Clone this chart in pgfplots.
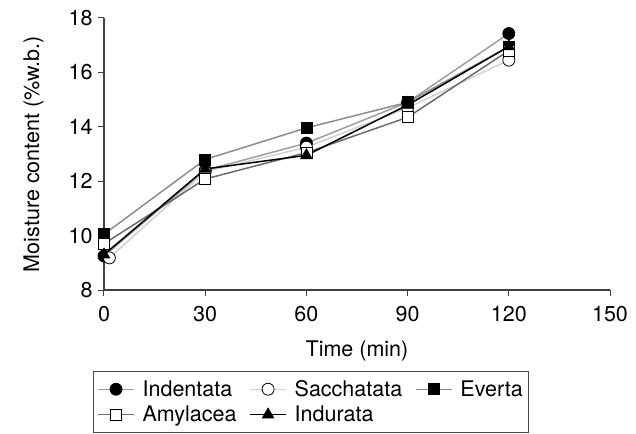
\documentclass[border=0pt]{standalone}
\usepackage{fontspec}
\setmainfont{TeX Gyre Heros}
\usepackage{pgfplots}
\pgfplotsset{compat=1.18}
\definecolor{cIn}{gray}{0.62}
\definecolor{cSa}{gray}{0.82}
\definecolor{cEv}{gray}{0.55}
\definecolor{cAm}{gray}{0.42}
\definecolor{cId}{gray}{0.0}
\begin{document}
\begin{tikzpicture}
\path[use as bounding box] (-104pt,-143pt) rectangle (532pt,290pt);
\begin{axis}[
  scale only axis, width=506pt, height=272pt,
  xmin=0, xmax=150, ymin=8, ymax=18,
  xtick={0,30,60,90,120,150}, ytick={8,10,12,14,16,18},
  axis lines*=left,
  axis line style={draw=black!75, line width=1.2pt},
  tick align=outside, major tick length=6pt,
  tick style={draw=black!75, line width=1pt},
  font=\fontsize{21.5}{26}\selectfont,
  tick label style={font=\fontsize{21.5}{26}\selectfont},
  xticklabel style={yshift=-7pt},
  yticklabel style={xshift=-2pt},
  /pgf/number format/assume math mode=true,
  xlabel={Time (min)}, ylabel={Moisture content (\%w.b.)},
  label style={font=\fontsize{21.5}{26}\selectfont},
  xlabel style={yshift=-12pt},
  ylabel style={yshift=18pt},
  clip=false,
  legend columns=3,
  legend cell align=left,
  legend style={at={(-0.0217,-0.298)}, anchor=north west,
    draw=black!70, line width=0.8pt, font=\fontsize{21.5}{26}\selectfont,
    inner xsep=4pt, inner ysep=7pt, row sep=4pt,
    /tikz/every odd column/.append style={column sep=6pt},
    /tikz/every even column/.append style={column sep=11pt}},
  legend image code/.code={\draw[mark repeat=2,mark phase=2,#1,line width=1.2pt] plot coordinates {(0pt,0pt) (18pt,0pt) (36pt,0pt)};},
  every axis plot/.append style={line width=1.5pt},
]
\addplot[cIn, mark=*, mark size=6pt, mark options={draw=black, fill=black, line width=0.8pt}]
  coordinates {(0,9.25) (30,12.4) (60,13.4) (90,14.9) (120,17.43)};
\addlegendentry{Indentata}
\addplot[cSa, mark=*, mark size=6pt, mark options={draw=black, fill=white, line width=0.8pt}]
  coordinates {(1.6,9.18) (30,12.35) (60,13.25) (90,14.7) (120,16.45)};
\addlegendentry{Sacchatata}
\addplot[cEv, mark=square*, mark size=5.5pt, mark options={draw=black, fill=black, line width=0.8pt}]
  coordinates {(0,10.05) (30,12.8) (60,13.96) (90,14.9) (120,16.95)};
\addlegendentry{Everta}
\addplot[cAm, mark=square*, mark size=5.5pt, mark options={draw=black, fill=white, line width=0.8pt}]
  coordinates {(0,9.7) (30,12.08) (60,13.05) (90,14.35) (120,16.8)};
\addlegendentry{Amylacea}
\addplot[cId, mark=triangle*, mark size=6.5pt, mark options={draw=black, fill=black, line width=0.8pt}]
  coordinates {(0,9.3) (30,12.45) (60,12.95) (90,14.8) (120,16.95)};
\addlegendentry{Indurata}
\end{axis}
\end{tikzpicture}
\end{document}
